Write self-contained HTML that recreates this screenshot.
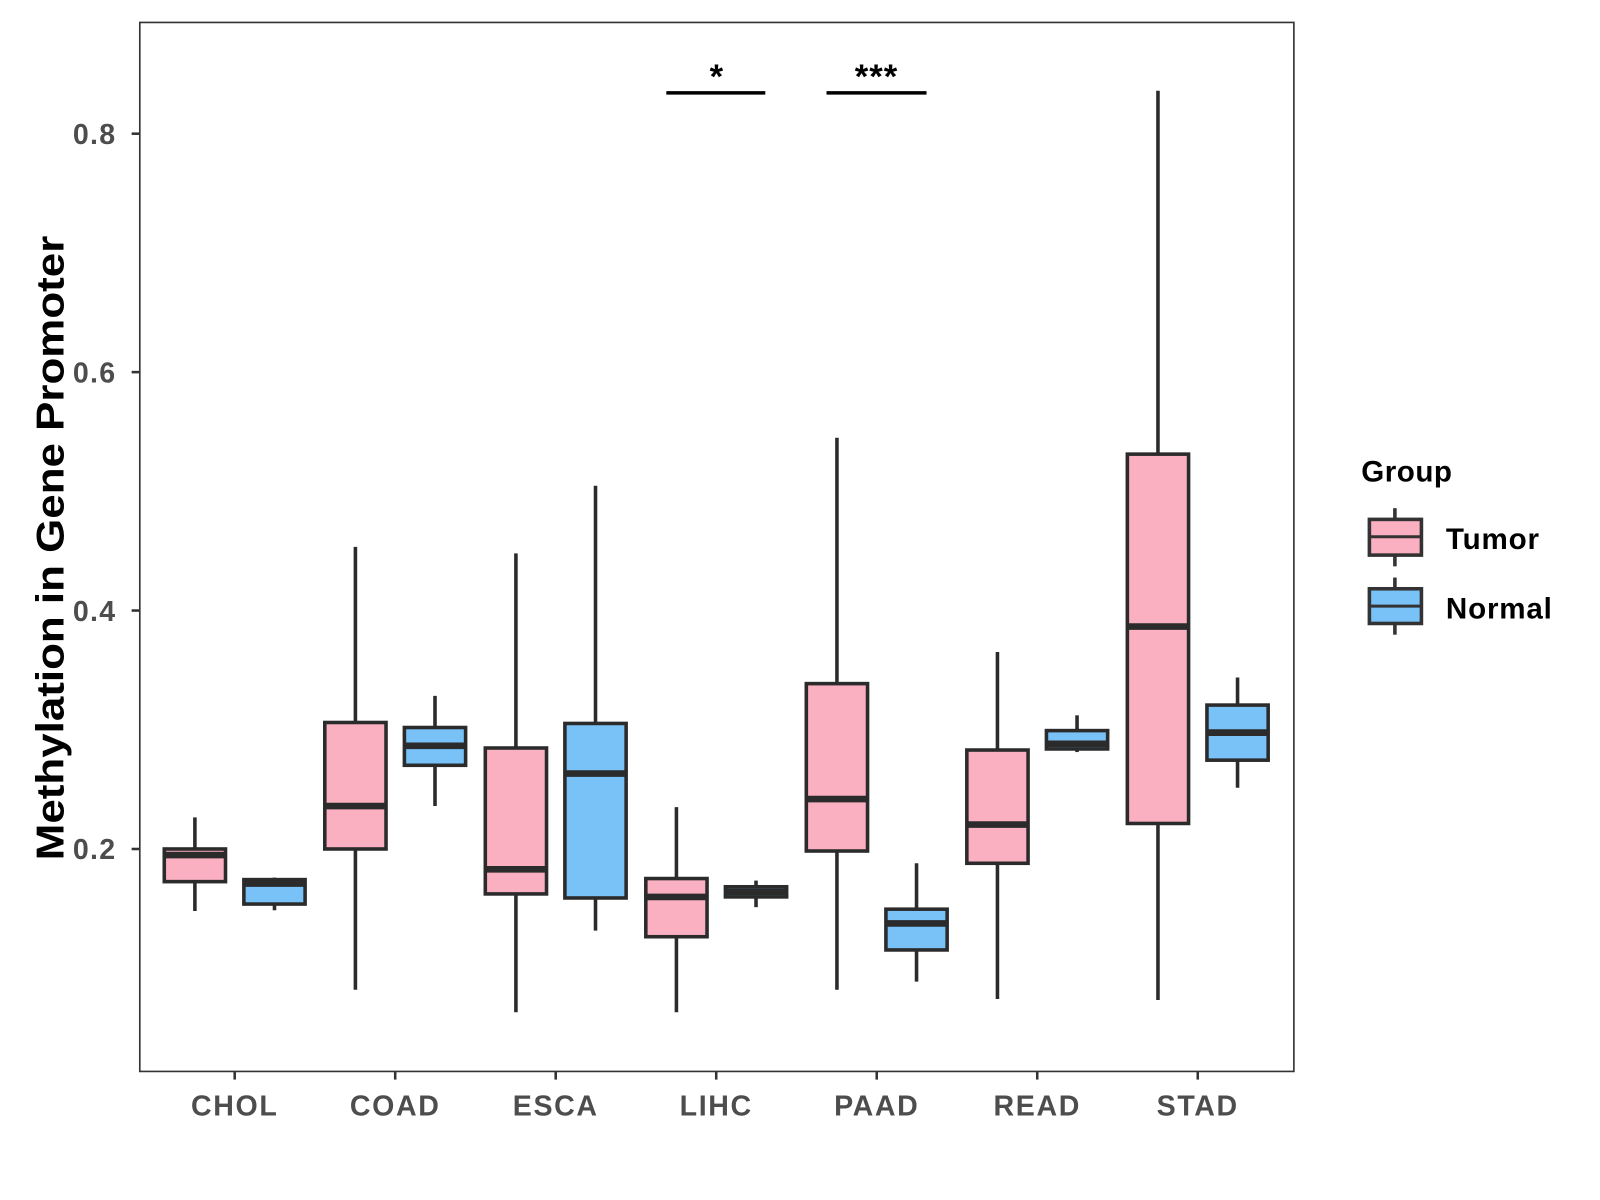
<!DOCTYPE html>
<html><head><meta charset="utf-8"><style>
html,body{margin:0;padding:0;background:#fff;}
svg{display:block;font-family:"Liberation Sans",sans-serif;font-weight:bold;}
</style></head><body>
<svg id="chart" width="1600" height="1200" viewBox="0 0 1568 1176" xmlns="http://www.w3.org/2000/svg">
<rect x="137" y="22" width="1131" height="1028" fill="#fff" stroke="#333" stroke-width="1.6"/>
<g id="marks"></g>
<g id="axes"></g>
<text transform="translate(52,537) rotate(-90)" text-anchor="middle" dominant-baseline="middle" font-size="38" fill="#000" textLength="612" lengthAdjust="spacingAndGlyphs">Methylation in Gene Promoter</text>
<g>
<line x1="653" y1="91" x2="750" y2="91" stroke="#000" stroke-width="3.5"/>
<text x="702" y="86" text-anchor="middle" font-size="34" fill="#000">*</text>
</g>
<g>
<line x1="810" y1="91" x2="908" y2="91" stroke="#000" stroke-width="3.5"/>
<text x="859" y="86" text-anchor="middle" font-size="34" fill="#000" letter-spacing="1">***</text>
</g>
<g>
<text x="1334" y="472" font-size="29" fill="#000" letter-spacing="0.5">Group</text>
<g>
<line x1="1367" y1="498" x2="1367" y2="555" stroke="#333" stroke-width="3.5"/>
<rect x="1342" y="509" width="51" height="35" fill="#FBB0C1" stroke="#333" stroke-width="3.5"/>
<line x1="1342" y1="526" x2="1393" y2="526" stroke="#333" stroke-width="3"/>
<text x="1417" y="538" font-size="29" fill="#000" letter-spacing="0.8">Tumor</text>
</g>
<g>
<line x1="1367" y1="566" x2="1367" y2="622" stroke="#333" stroke-width="3.5"/>
<rect x="1342" y="577" width="51" height="34" fill="#78C2F8" stroke="#333" stroke-width="3.5"/>
<line x1="1342" y1="594" x2="1393" y2="594" stroke="#333" stroke-width="3"/>
<text x="1417" y="606" font-size="29" fill="#000" letter-spacing="0.8">Normal</text>
</g>
</g>
</svg>
<script>
const categories = ["CHOL","COAD","ESCA","LIHC","PAAD","READ","STAD"];
// [min, q1, median, q3, max]
const tumorStats = [
  [0.148,0.1726,0.1949,0.2,0.2265],
  [0.0819,0.2,0.236,0.3061,0.4534],
  [0.063,0.1623,0.1829,0.2847,0.448],
  [0.063,0.1264,0.1598,0.1752,0.2351],
  [0.0819,0.1983,0.2419,0.3387,0.545],
  [0.0742,0.188,0.2205,0.283,0.3652],
  [0.0733,0.2214,0.3866,0.5312,0.836]
];
const normalStats = [
  [0.1486,0.1538,0.171,0.1743,0.176],
  [0.236,0.2702,0.2865,0.3019,0.3284],
  [0.1315,0.1589,0.2633,0.3053,0.5047],
  [0.1512,0.1598,0.164,0.1683,0.1735],
  [0.0887,0.1153,0.1375,0.1495,0.188],
  [0.2813,0.2839,0.2882,0.2993,0.3121],
  [0.2514,0.2745,0.2976,0.3207,0.3438]
];
const yTicks = [0.2,0.4,0.6,0.8];
const yTickLabels = ["0.2","0.4","0.6","0.8"];

const NS="http://www.w3.org/2000/svg";
const y = v => 832 - (v-0.2)*1168.3;
const x = i => 230 + i*157.3;
const marks=document.getElementById('marks'), axes=document.getElementById('axes');
function mk(tag, attrs, parent){const e=document.createElementNS(NS,tag);for(const k in attrs)e.setAttribute(k,attrs[k]);parent.appendChild(e);return e;}

function drawBox(s, cx, fill, name){
  const g=mk('g',{},marks);
  
  
  const hw=30;
  mk('line',{x1:cx,x2:cx,y1:y(s[4]),y2:y(s[0]),stroke:'#2b2b2b','stroke-width':3.5},g);
  mk('rect',{x:cx-hw,y:y(s[3]),width:hw*2,height:y(s[1])-y(s[3]),fill:fill,stroke:'#2b2b2b','stroke-width':3.5},g);
  mk('line',{x1:cx-hw,x2:cx+hw,y1:y(s[2]),y2:y(s[2]),stroke:'#2b2b2b','stroke-width':6.5},g);
}
categories.forEach((c,i)=>{
  drawBox(tumorStats[i], x(i)-39, '#FBB0C1', 'box-tumor-'+c.toLowerCase());
  drawBox(normalStats[i], x(i)+39, '#78C2F8', 'box-normal-'+c.toLowerCase());
  mk('line',{x1:x(i),x2:x(i),y1:1050,y2:1058,stroke:'#333','stroke-width':2.5},axes);
  const t=mk('text',{x:x(i),y:1093,'text-anchor':'middle','font-size':28,'letter-spacing':1.6,fill:'#4d4d4d'},axes);
  
  
  t.textContent=c;
});
yTicks.forEach((v,i)=>{
  mk('line',{x1:129,x2:137,y1:y(v),y2:y(v),stroke:'#333','stroke-width':2.5},axes);
  const t=mk('text',{x:114,y:y(v)+10,'text-anchor':'end','font-size':28,'letter-spacing':1.2,fill:'#4d4d4d'},axes);
  
  
  t.textContent=yTickLabels[i];
});
</script>
</body></html>
